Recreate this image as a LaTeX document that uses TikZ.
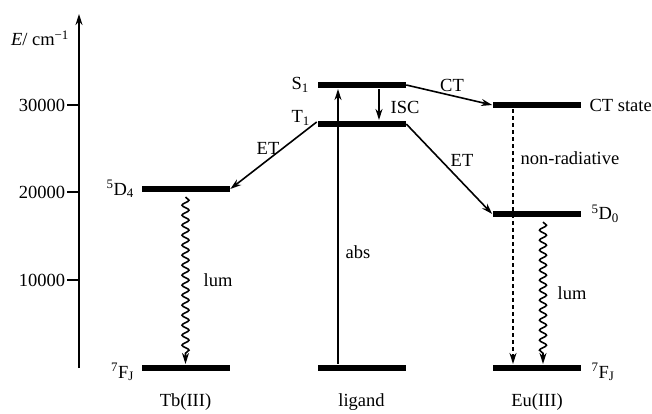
\documentclass[tikz,border=0pt]{standalone}
\usepackage{fontspec}
\setmainfont{Liberation Serif}
\usetikzlibrary{positioning,arrows.meta,decorations.pathmorphing}

\begin{document}
\begin{tikzpicture}[x=1pt,y=-1pt,>={Stealth[length=11pt,width=7pt]},line width=1.6pt,
        font=\fontsize{18.5}{21}\selectfont,
        level/.style={fill=black,minimum width=88pt,minimum height=6.5pt,inner sep=0pt},
        lbl/.style={inner sep=1pt},
        wavy/.style={decorate,decoration={snake,amplitude=3.5pt,segment length=10pt,post length=9pt}}]
    \useasboundingbox (0,0) rectangle (652,414);

    % energy axis
    \coordinate (origin) at (79,368);
    \coordinate (top) at (79,14);
    \draw[->] (origin) -- (top);
    \foreach \v/\y in {10000/280,20000/192,30000/105}
        \draw (67,\y) -- (79,\y) node[pos=0,left,inner sep=1pt] {\v};
    \node[lbl] (axis) at (40,38) {\textit{E}/ cm\textsuperscript{−1}};

    % levels
    \node[level] (D4) at (185.5,189) {};
    \node[level] (Ftb) at (185.5,368) {};
    \node[level] (S1) at (361.5,85) {};
    \node[level] (T1) at (361.5,124) {};
    \node[level] (G) at (361.5,368) {};
    \node[level] (CT) at (537,105) {};
    \node[level] (D0) at (537,214) {};
    \node[level] (Feu) at (537,368) {};

    % level labels
    \node[lbl] (D4l) [left=5pt of D4] {\textsuperscript{5}D\textsubscript{4}};
    \node[lbl] (Ftbl) [left=5pt of Ftb, yshift=-4pt] {\textsuperscript{7}F\textsubscript{J}};
    \node[lbl] (S1l) [left=6pt of S1] {S\textsubscript{1}};
    \node[lbl] (T1l) [left=5pt of T1, yshift=6pt] {T\textsubscript{1}};
    \node[lbl] (CTl) [right=6pt of CT] {CT state};
    \node[lbl] (D0l) [right=8pt of D0] {\textsuperscript{5}D\textsubscript{0}};
    \node[lbl] (Feul) [right=8pt of Feu, yshift=-4pt] {\textsuperscript{7}F\textsubscript{J}};

    \node[lbl] (tb) [below=20pt of Ftb] {Tb(III)};
    \node[lbl] (lig) [below=20pt of G] {ligand};
    \node[lbl] (eu) [below=20pt of Feu] {Eu(III)};

    % transitions
    \draw[->] ([xshift=-23.5pt]G.north) -- ([xshift=-23.5pt]S1.south);
    \draw[->] ([xshift=17.5pt]S1.south) -- ([xshift=17.5pt]T1.north);
    \draw[->] ([yshift=2pt]T1.west) -- (D4.east);
    \draw[->] (S1.east) -- (CT.west);
    \draw[->] (T1.east) -- (D0.west);
    \draw[->,dashed,dash pattern=on 4pt off 3pt] ([xshift=-24pt]CT.south) -- ([xshift=-24pt]Feu.north);
    \draw[->,wavy] ([yshift=-4pt]D4.south) -- (Ftb.north);
    \draw[->,wavy] ([xshift=6pt,yshift=-4pt]D0.south) -- ([xshift=6pt]Feu.north);

    % transition labels
    \node[lbl] at (358,252) {abs};
    \node[lbl] at (405,107) {ISC};
    \node[lbl] at (452,85) {CT};
    \node[lbl] at (268,148) {ET};
    \node[lbl] at (462,160) {ET};
    \node[lbl] at (570,158) {non-radiative};
    \node[lbl] at (218,280) {lum};
    \node[lbl] at (572,293) {lum};
\end{tikzpicture}
\end{document}
